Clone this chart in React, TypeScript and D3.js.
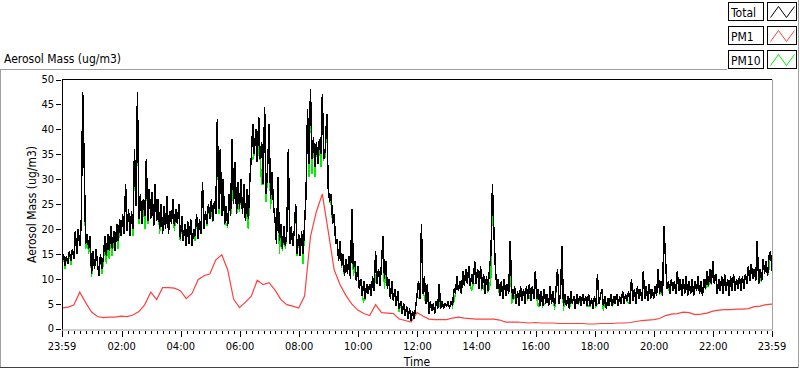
import React from "react";
import * as d3 from "d3";

// Total aerosol mass, one value every 3 minutes from 23:59 to 23:59 (one row per hour, 481 values)
const totalValues = [
  13.5, 15, 12.5, 14.5, 13, 15.5, 13.5, 16, 14, 19.5, 15, 20, 16.5, 21, 47.5, 33, 17, 19, 16, 18.5,
  11, 15.5, 12, 16, 13, 10.5, 15, 12, 14.5, 18.5, 14.5, 19, 15.5, 20.5, 16, 19.5, 15.5, 21, 17.5, 22,
  18.5, 23, 19, 29, 19.5, 24, 18.5, 23.5, 20, 36, 24.5, 47.5, 22, 27, 21, 26, 22.5, 34, 21.5, 28,
  22, 27.5, 20.5, 29, 21.5, 26, 20, 25, 19, 24.5, 20, 26.5, 19, 23.5, 21, 26, 20.5, 24, 21, 25,
  18, 22.5, 17.5, 21, 16.5, 21.5, 17, 22, 16.5, 20, 18.5, 23, 18, 22, 19, 29.5, 20, 23.5, 21, 25,
  22, 26, 21.5, 25.5, 23, 42, 24, 36, 22.5, 30, 21, 24.5, 20.5, 27, 22.5, 38, 25, 33.5, 23, 29.5,
  24, 30, 23, 29, 21.5, 28, 22, 30, 34.5, 41, 35, 40, 33.5, 42.5, 34, 37.5, 29, 44.5, 27, 32,
  41, 26, 31.5, 24.5, 22, 17, 30.5, 17.5, 21, 16, 20.5, 16.5, 19.5, 36, 17, 20.5, 16.5, 19.5, 25, 15,
  19, 14.5, 19.5, 15, 21, 27, 44, 33, 48, 34, 38.5, 32.5, 37.5, 33, 38, 35, 47, 34, 36, 43,
  28, 25.5, 27, 21, 23, 17, 18, 13.5, 17.5, 12.5, 15, 10.5, 14, 11, 14.5, 10, 24, 12, 13.5, 9.5,
  12.5, 8, 10, 6.5, 9.5, 6, 9, 7, 9, 6.5, 10.5, 7.5, 15.5, 9, 12, 8.5, 13, 18.5, 10, 13.5,
  8, 10, 6, 9.5, 5.5, 8, 4.5, 7.5, 4, 5.5, 3, 5, 2.5, 4.5, 2, 4, 1.5, 3.5, 2, 4,
  6.5, 9.5, 6, 21, 7, 10.5, 5, 9, 3, 5.5, 3.5, 5, 3, 5.5, 4, 9, 4, 5.5, 4, 5,
  4.5, 5.5, 4, 5.5, 4.5, 8, 7, 10.5, 7.5, 9.5, 7, 11.5, 8.5, 12, 9, 12.5, 8.5, 11, 9, 13.5,
  9, 12, 8, 12.5, 8, 11, 7, 10.5, 7.5, 12, 15, 29, 19.5, 12, 8, 10, 6.5, 9.5, 6, 10,
  6.5, 9, 7, 17.5, 8, 6, 8.5, 5, 7.5, 4.5, 8.5, 5.5, 8, 5, 8.5, 6, 9, 5.5, 8.5, 6,
  11.5, 6, 8, 4.5, 7.5, 4.5, 8, 5, 7, 4.5, 8.5, 5, 7.5, 4.5, 8, 12, 5, 7, 16.5, 4.5,
  7, 4.5, 6.5, 4, 7.5, 5, 6.5, 4, 7, 5, 6.5, 4.5, 7, 5, 6.5, 4.5, 7, 4.5, 6, 4,
  6.5, 4.5, 11, 5, 6.5, 8, 4.5, 6.5, 4, 6, 4.5, 7, 4.5, 6.5, 5, 7, 4.5, 6.5, 5, 7.5,
  5, 7, 5.5, 7.5, 5, 10, 5.5, 8, 5, 8.5, 6, 8, 5.5, 11.5, 6, 8.5, 5.5, 9, 6, 8,
  6, 8.5, 6.5, 12, 7, 9.5, 6.5, 20.5, 14, 8, 9.5, 7, 10, 7.5, 9.5, 7, 11.5, 7.5, 10, 6.5,
  10, 7, 10.5, 6.5, 9.5, 7, 10, 6.5, 9.5, 7.5, 10.5, 7, 9.5, 6.5, 10, 8, 11.5, 8.5, 12, 9,
  13.5, 9, 11, 7, 10, 7.5, 10.5, 7, 11, 7.5, 10, 6.5, 10.5, 7.5, 11, 7.5, 10, 8, 10.5, 7.5,
  10.5, 8, 11, 9, 12.5, 9.5, 13, 10, 12, 9.5, 17.5, 9, 12, 9.5, 14, 11, 13.5, 10.5, 14.5, 15.5,
  11.5,
];

// PM10, same 3-minute timestamps
const pm10Values = [
  13.5, 15, 12, 14.5, 13, 15.5, 12.8, 16, 14, 19.5, 15, 20, 16.5, 21, 47.5, 33, 16, 19, 15, 18.5,
  10.3, 15.5, 12, 16, 13, 10.5, 15, 11, 13.5, 18.5, 13, 19, 14, 20.5, 14.5, 19.5, 15.5, 21, 16, 22,
  18.5, 23, 19, 29, 19.5, 24, 18.5, 23.5, 18.5, 36, 24.5, 47.5, 21, 27, 21, 26, 20, 34, 21, 28,
  22, 27.5, 20.5, 29, 21.5, 26, 19, 25, 19, 24.5, 20, 26.5, 19, 23.5, 21, 26, 19.5, 24, 21, 25,
  17.5, 22.5, 17.5, 21, 16.5, 21.5, 17, 22, 16.5, 20, 17.5, 23, 18, 22, 19, 29.5, 20, 23.5, 20.5, 25,
  22, 23.5, 21.5, 25.5, 23, 42, 23, 36, 22.5, 30, 21, 21, 20.5, 27, 22.5, 28, 25, 33.5, 23, 25,
  23.5, 30, 23, 29, 21.5, 23.5, 20, 30, 34.5, 34, 35, 40, 33.5, 37, 34, 29, 29, 44.5, 25.5, 32,
  41, 24, 31.5, 24.5, 22, 17, 30.5, 15, 21, 15.5, 20.5, 16, 19.5, 36, 17, 20.5, 16.5, 19.5, 25, 14.5,
  19, 14.5, 19.5, 13, 21, 27, 44, 30.5, 48, 31, 38.5, 30.5, 37.5, 33, 38, 32.5, 47, 34, 34.5, 43,
  28, 25.5, 25, 21, 23, 17, 18, 13.5, 17.5, 12.5, 13, 10.5, 14, 11, 14.5, 10, 24, 10.5, 13.5, 9.5,
  12.5, 8, 10, 6.5, 5.5, 6, 9, 7, 9, 6.5, 10.5, 7.5, 11, 9, 12, 8.5, 13, 18.5, 8, 13.5,
  8, 10, 6, 9.5, 5.5, 8, 4.5, 7.5, 3.3, 5.5, 3, 5, 2.5, 4.5, 2, 4, 1.5, 3.5, 2, 4,
  6.5, 6, 6, 21, 7, 6.5, 5, 9, 3, 5.5, 3.5, 5, 3, 5.5, 4, 5, 4, 5.5, 4, 5,
  4.5, 5.5, 4, 5.5, 4.5, 5.5, 7, 10.5, 7.5, 9.5, 7, 11.5, 8.5, 12, 9, 12.5, 8.5, 7.8, 9, 9,
  9, 12, 8, 12.5, 8, 8.5, 7, 10.5, 7.5, 8, 10.5, 29, 19.5, 12, 8, 8, 6.5, 9.5, 6, 10,
  6.5, 9, 7, 17.5, 5, 6, 6.5, 5, 7.5, 4.5, 8.5, 5.5, 8, 5, 8.5, 6, 6.5, 5.5, 8.5, 6,
  11.5, 6, 4.5, 4.5, 7.5, 4.5, 5, 5, 7, 4.5, 8.5, 5, 7.5, 3.8, 8, 12, 5, 7, 16.5, 3.5,
  7, 4.5, 6.5, 4, 5, 5, 6.5, 4, 7, 5, 5.5, 4.5, 7, 5, 6.5, 4.5, 4.5, 4.5, 6, 4,
  6.5, 4.5, 5, 5, 6.5, 8, 3.5, 6.5, 4, 6, 4.5, 7, 4.5, 5, 5, 7, 4.5, 6.5, 5, 7.5,
  5, 7, 5.5, 5, 5, 10, 5.5, 8, 5, 8.5, 6, 8, 5.5, 11.5, 6, 8.5, 5.5, 9, 6, 8,
  6, 8.5, 6.5, 12, 7, 7.5, 6.5, 20.5, 14, 8, 8, 7, 10, 7.5, 9.5, 7, 11.5, 7.5, 10, 6.5,
  10, 7, 10.5, 6.5, 9.5, 7, 10, 6.5, 9.5, 7.5, 10.5, 7, 9.5, 6.5, 10, 8, 8.5, 8.5, 9.5, 9,
  13.5, 9, 11, 7, 10, 7.5, 10.5, 7, 11, 7.5, 10, 6.5, 10.5, 7.5, 11, 7.5, 10, 8, 10.5, 7.5,
  10.5, 8, 11, 9, 12.5, 9.5, 13, 10, 12, 9.5, 17.5, 9, 10, 9.5, 14, 11, 13.5, 10.5, 12, 15.5,
  11.5,
];

// PM1, one value every 12 minutes (121 values)
const pm1Values = [
  4.1, 4.3, 4.7, 7.3, 5.2, 3.3, 2.4, 2.2, 2.3, 2.3,
  2.5, 2.4, 2.7, 3.4, 4.8, 7.3, 5.8, 8.2, 8.2, 8.1,
  7.6, 6.0, 7.1, 9.8, 10.6, 11.0, 13.8, 14.8, 11.8, 5.9,
  4.2, 5.3, 6.5, 9.7, 8.8, 9.2, 7.7, 5.8, 4.8, 4.5,
  4.1, 6.5, 18.5, 23.5, 27.0, 19.5, 11.8, 8.8, 6.6, 4.9,
  3.7, 3.0, 2.6, 4.8, 3.2, 3.1, 3.0, 1.9, 1.6, 1.3,
  3.2, 2.5, 1.9, 1.8, 1.8, 1.8, 2.1, 2.3, 2.1, 2.0,
  1.9, 1.9, 1.9, 1.9, 1.7, 1.3, 1.3, 1.3, 1.2, 1.1,
  1.2, 1.1, 1.1, 1.1, 1.0, 1.0, 1.0, 1.0, 1.0, 0.9,
  0.9, 1.0, 1.0, 1.0, 1.1, 1.1, 1.2, 1.4, 1.6, 1.7,
  1.8, 2.0, 2.6, 2.9, 3.0, 3.3, 3.2, 2.8, 2.9, 3.1,
  3.5, 3.7, 3.8, 3.8, 3.9, 3.9, 4.0, 4.4, 4.5, 4.8,
  4.9,
];

const xTickLabels = [
  "23:59", "02:00", "04:00", "06:00", "08:00", "10:00", "12:00",
  "14:00", "16:00", "18:00", "20:00", "22:00", "23:59",
];
const yTickValues = [0, 5, 10, 15, 20, 25, 30, 35, 40, 45, 50];
const legendLabels = ["Total", "PM1", "PM10"];
const legendColors = ["#000000", "#ff4040", "#00f000"];

const FONT = "'DejaVu Sans Condensed', 'DejaVu Sans', sans-serif";

export default function App() {
  const L = 62, R = 772, T = 79.5, B = 329.5;
  const x = d3.scaleLinear().domain([0, 1440]).range([L, R]);
  const y = d3.scaleLinear().domain([0, 50]).range([328.5, 79.5]);

  const line = d3
    .line<[number, number]>()
    .x((d) => x(d[0]))
    .y((d) => y(d[1]));

  const totalPath = line(totalValues.map((v, i) => [i * 3, v]));
  const pm10Path = line(pm10Values.map((v, i) => [i * 3, v]));
  const pm1Path = line(pm1Values.map((v, i) => [i * 12, v]));

  const toMin = (s: string) => {
    const [h, m] = s.split(":").map(Number);
    return h * 60 + m;
  };
  const majorT = xTickLabels.map((lab, i) =>
    i === xTickLabels.length - 1 ? 1440 : (toMin(lab) - 1439 + 1440) % 1440
  );
  const minorT = d3.range(1, 120).filter((k) => k % 10 !== 0).map((k) => 1 + 12 * k);
  const txt = { fontStretch: "condensed" as const };

  return (
    <svg
      width={800}
      height={369}
      style={{ position: "fixed", left: 0, top: 0, background: "#fff" }}
      fontFamily={FONT}
    >
      <defs>
        <clipPath id="plotclip">
          <rect x={L + 1} y={T} width={R - L - 1} height={B - T} />
        </clipPath>
      </defs>
      <rect x={0} y={0} width={800} height={369} fill="#fff" />

      {/* outer frame */}
      <line x1={0} x2={727} y1={69.5} y2={69.5} stroke="#a0a0a0" />
      <line x1={0.5} x2={0.5} y1={69.5} y2={368} stroke="#a0a0a0" />
      <line x1={0} x2={799} y1={367.5} y2={367.5} stroke="#404040" />
      <line x1={798.5} x2={798.5} y1={0} y2={368} stroke="#a0a0a0" />

      {/* title */}
      <text x={4} y={62.5} fontSize={12} fill="#000" style={txt}>
        Aerosol Mass (ug/m3)
      </text>

      {/* legend */}
      {legendLabels.map((lab, i) => {
        const ty = 2.5 + i * 24;
        const sx = 767.5;
        const zig = `M${sx + 3},${ty + 15} L${sx + 11},${ty + 4} L${sx + 19},${ty + 15} L${sx + 27},${ty + 4}`;
        return (
          <g key={lab}>
            <rect x={728.5} y={ty} width={35} height={18} fill="#fff" stroke="#000" />
            <text x={731} y={ty + 14} fontSize={12} fill="#000" style={txt}>
              {lab}
            </text>
            <rect x={sx} y={ty} width={29} height={18} fill="#fff" stroke="#000" />
            <path d={zig} fill="none" stroke={legendColors[i]} strokeWidth={1} />
          </g>
        );
      })}

      {/* plot area */}
      <rect x={L} y={T} width={R - L} height={B - T} fill="#fff" />
      <g clipPath="url(#plotclip)" shapeRendering="crispEdges">
        <path d={pm10Path ?? ""} fill="none" stroke={legendColors[2]} strokeWidth={1.5} />
        <path d={pm1Path ?? ""} fill="none" stroke={legendColors[1]} strokeWidth={1.2} shapeRendering="auto" />
        <path d={totalPath ?? ""} fill="none" stroke={legendColors[0]} strokeWidth={1.5} />
      </g>
      <line x1={L} x2={R} y1={T} y2={T} stroke="#000" />
      <line x1={L + 0.5} x2={L + 0.5} y1={T} y2={B + 1} stroke="#000" />
      <line x1={R + 0.5} x2={R + 0.5} y1={T} y2={B} stroke="#a0a0a0" />
      <line x1={L} x2={R + 1} y1={B + 0.5} y2={B + 0.5} stroke="#a0a0a0" />

      {/* y axis */}
      {yTickValues.map((v) => (
        <g key={v}>
          <line x1={56} x2={61} y1={Math.round(y(v)) + 0.5} y2={Math.round(y(v)) + 0.5} stroke="#000" />
          <text x={54} y={y(v)} dy="0.36em" textAnchor="end" fontSize={11} fill="#000" style={txt}>
            {v}
          </text>
        </g>
      ))}
      <text
        transform={`translate(36, ${(T + B) / 2}) rotate(-90)`}
        textAnchor="middle"
        fontSize={12}
        fill="#000"
        style={txt}
      >
        Aerosol Mass (ug/m3)
      </text>

      {/* x axis */}
      {minorT.map((t) => (
        <line key={t} x1={Math.round(x(t)) + 0.5} x2={Math.round(x(t)) + 0.5} y1={331} y2={334} stroke="#000" />
      ))}
      {majorT.map((t, i) => (
        <g key={i}>
          <line x1={Math.round(x(t)) + 0.5} x2={Math.round(x(t)) + 0.5} y1={331} y2={337} stroke="#000" />
          <text x={x(t)} y={349.5} textAnchor="middle" fontSize={11} fill="#000" style={txt}>
            {xTickLabels[i]}
          </text>
        </g>
      ))}
      <text x={(L + R) / 2} y={365.5} textAnchor="middle" fontSize={12} fill="#000" style={txt}>
        Time
      </text>
    </svg>
  );
}
